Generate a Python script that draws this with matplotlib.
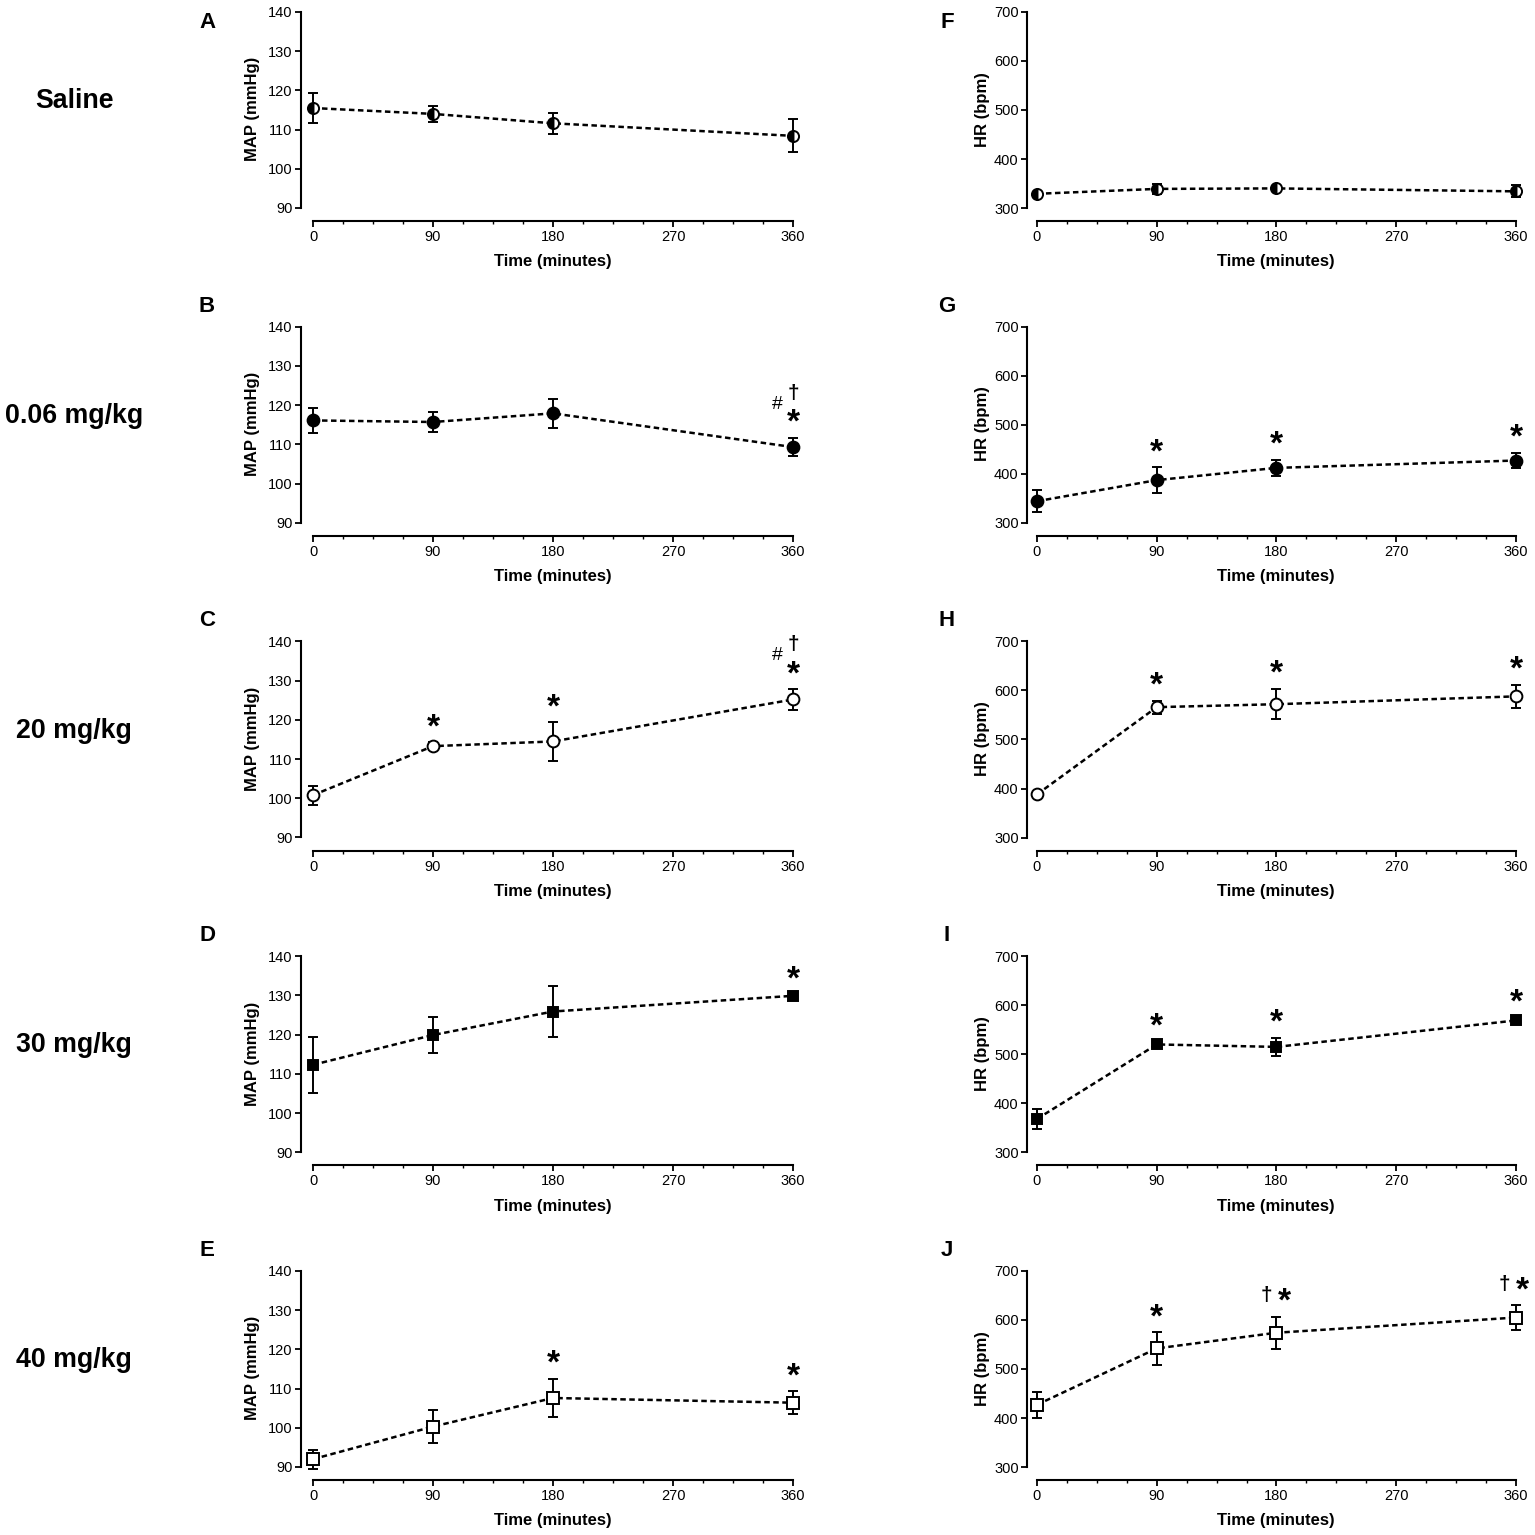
import numpy as np
import matplotlib
matplotlib.use("Agg")
import matplotlib.pyplot as plt
from matplotlib.ticker import FixedLocator

plt.rcParams['font.family'] = ['Liberation Sans', 'DejaVu Sans']

# ---------------- data ----------------
times = [0, 90, 180, 360]
xticks = [0, 90, 180, 270, 360]
group_labels = ["Saline", "0.06 mg/kg", "20 mg/kg", "30 mg/kg", "40 mg/kg"]
map_letters = ["A", "B", "C", "D", "E"]
hr_letters = ["F", "G", "H", "I", "J"]

map_saline = [115.5, 114.0, 111.6, 108.4]
map_saline_err = [3.9, 2.0, 2.6, 4.2]
map_006 = [116.1, 115.7, 117.9, 109.3]
map_006_err = [3.1, 2.6, 3.7, 2.3]
map_20 = [100.8, 113.3, 114.5, 125.2]
map_20_err = [2.4, 1.0, 4.9, 2.6]
map_30 = [112.3, 119.9, 125.9, 129.9]
map_30_err = [7.2, 4.7, 6.5, 0.4]
map_40 = [92.0, 100.3, 107.6, 106.4]
map_40_err = [2.4, 4.2, 4.9, 2.9]

hr_saline = [329, 339, 340, 334]
hr_saline_err = [4, 10, 5, 12]
hr_006 = [344, 387, 412, 427]
hr_006_err = [22, 26, 16, 16]
hr_20 = [388, 566, 572, 588]
hr_20_err = [4, 13, 31, 24]
hr_30 = [368, 520, 515, 569]
hr_30_err = [20, 5, 19, 5]
hr_40 = [427, 542, 574, 605]
hr_40_err = [27, 33, 33, 25]

map_ticks = [90, 100, 110, 120, 130, 140]
hr_ticks = [300, 400, 500, 600, 700]

# significance marks: (time index, symbol)
map_marks = [
    [],
    [(3, '*'), (3, '#'), (3, '†')],
    [(1, '*'), (2, '*'), (3, '*'), (3, '#'), (3, '†')],
    [(3, '*')],
    [(2, '*'), (3, '*')],
]
hr_marks = [
    [],
    [(1, '*'), (2, '*'), (3, '*')],
    [(1, '*'), (2, '*'), (3, '*')],
    [(1, '*'), (2, '*'), (3, '*')],
    [(1, '*'), (2, '*r'), (2, '†l'), (3, '*r'), (3, '†l')],
]

map_series = [(map_saline, map_saline_err), (map_006, map_006_err), (map_20, map_20_err),
              (map_30, map_30_err), (map_40, map_40_err)]
hr_series = [(hr_saline, hr_saline_err), (hr_006, hr_006_err), (hr_20, hr_20_err),
             (hr_30, hr_30_err), (hr_40, hr_40_err)]

styles = [
    dict(marker='o', ms=8, fillstyle='left', mfc='black', mfcalt='white'),
    dict(marker='o', ms=8.5, mfc='black'),
    dict(marker='o', ms=8.5, mfc='white'),
    dict(marker='s', ms=7, mfc='black'),
    dict(marker='s', ms=8, mfc='white'),
]

W = 1535.0
fig = plt.figure(figsize=(15.35, 15.35), dpi=100)
fig.patch.set_facecolor('white')

ROW = 314.75


def make_axes(left_px, bottom_px, width_px, height_px):
    return fig.add_axes([left_px / W, 1 - bottom_px / W, width_px / W, height_px / W])


def style_axes(ax, yt):
    for s in ['top', 'right']:
        ax.spines[s].set_visible(False)
    ax.spines['left'].set_bounds(yt[0], yt[-1])
    ax.spines['bottom'].set_bounds(0, 360)
    for s in ['left', 'bottom']:
        ax.spines[s].set_linewidth(1.5)
    ax.set_xticks(xticks)
    ax.xaxis.set_minor_locator(FixedLocator([v for v in np.arange(0, 360.1, 22.5) if v % 90 != 0]))
    ax.set_yticks(yt)
    ax.tick_params(axis='both', which='major', direction='out', length=4, width=1.3,
                   labelsize=10.5, pad=2)
    ax.tick_params(axis='x', which='minor', direction='out', length=2.5, width=1.0)
    ax.tick_params(axis='x', which='major', length=4.5)


def draw(ax, vals, errs, st):
    ax.errorbar(times, vals, yerr=errs, fmt='none', ecolor='black', elinewidth=1.4,
                capsize=3.8, capthick=1.4, zorder=2)
    ax.plot(times, vals, color='black', lw=1.8, ls=(0, (2.2, 1.4)), zorder=3)
    kw = dict(ls='none', marker=st['marker'], ms=st['ms'], mfc=st['mfc'], mec='black', mew=1.4,
              zorder=4)
    if 'fillstyle' in st:
        kw['fillstyle'] = st['fillstyle']
        kw['markerfacecoloralt'] = st['mfcalt']
    ax.plot(times, vals, **kw)


SYM = {
    '*': dict(text='*', off=(0, 10.5), size=24, weight='bold'),
    '#': dict(text='#', off=(-11, 24), size=14, weight='normal'),
    '†': dict(text='†', off=(0, 32), size=15, weight='bold'),
    '*r': dict(text='*', off=(6, 10.5), size=24, weight='bold'),
    '†l': dict(text='†', off=(-7, 15), size=15, weight='bold'),
}


def marks(ax, vals, errs, mlist):
    for idx, sym in mlist:
        top = vals[idx] + errs[idx]
        s = SYM[sym]
        off = s['off']
        if sym in ('*r', '†l') and idx == 3:
            off = (4.5, 10.5) if sym == '*r' else (-8, 15)
        ax.annotate(s['text'], xy=(times[idx], top), xytext=off, textcoords='offset points',
                    ha='center', va='center', fontsize=s['size'], fontweight=s['weight'],
                    annotation_clip=False)


for i in range(5):
    bottom = 221 + ROW * i
    # MAP column
    axm = make_axes(301, bottom, 500, 214.9)
    axm.set_xlim(-9, 366)
    axm.set_ylim(86.68, 141.5)
    style_axes(axm, map_ticks)
    vals, errs = map_series[i]
    draw(axm, vals, errs, styles[i])
    marks(axm, vals, errs, map_marks[i])
    axm.set_ylabel("MAP (mmHg)", fontsize=12, fontweight='bold')
    axm.yaxis.set_label_coords(-0.082, 0.52)
    axm.set_xlabel("Time (minutes)", fontsize=12, fontweight='bold')
    axm.xaxis.set_label_coords(0.504, -0.155)

    # HR column
    axh = make_axes(1027, bottom, 497, 214.9)
    axh.set_xlim(-7.5, 366)
    axh.set_ylim(273.5, 712)
    style_axes(axh, hr_ticks)
    vals, errs = hr_series[i]
    draw(axh, vals, errs, styles[i])
    marks(axh, vals, errs, hr_marks[i])
    axh.set_ylabel("HR (bpm)", fontsize=12, fontweight='bold')
    axh.yaxis.set_label_coords(-0.075, 0.52)
    axh.set_xlabel("Time (minutes)", fontsize=12, fontweight='bold')
    axh.xaxis.set_label_coords(0.501, -0.155)

    # panel letters
    ly = 22 if i == 0 else 306 + ROW * (i - 1)
    fig.text(207 / W, 1 - ly / W, map_letters[i], fontsize=16, fontweight='bold',
             ha='center', va='center')
    fig.text(947 / W, 1 - ly / W, hr_letters[i], fontsize=16, fontweight='bold',
             ha='center', va='center')
    # group label
    gy = 101 + ROW * i
    fig.text(74 / W, 1 - gy / W, group_labels[i], fontsize=19.3, fontweight='bold',
             ha='center', va='center')

fig.savefig("out.png", dpi=100, facecolor='white')
